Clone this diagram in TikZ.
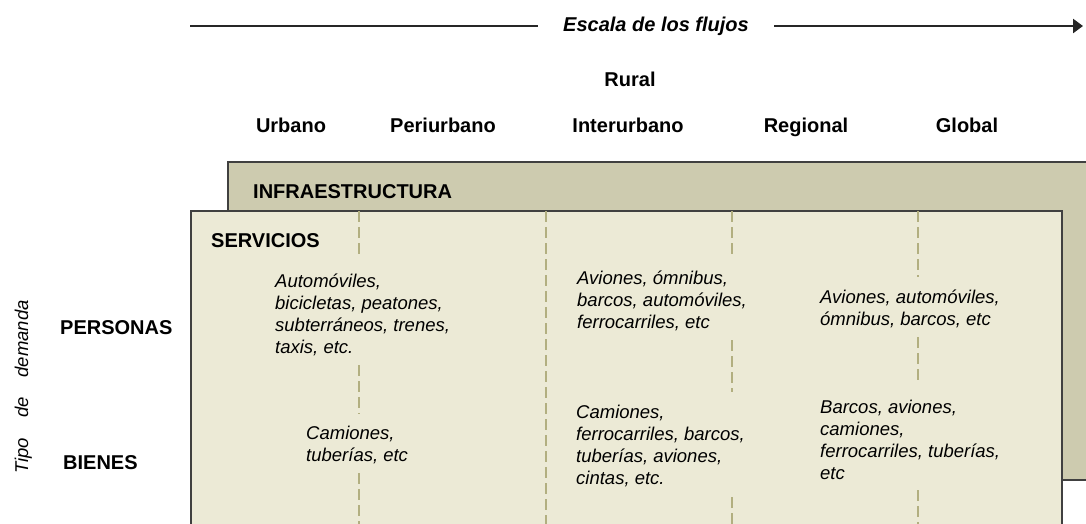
\documentclass[tikz,border=0pt]{standalone}
\usepackage{fontspec}
\setmainfont{Liberation Sans}
\usetikzlibrary{arrows.meta}

\definecolor{infrafill}{RGB}{205,203,175}
\definecolor{servfill}{RGB}{236,234,214}
\definecolor{boxline}{RGB}{64,64,64}
\definecolor{divline}{RGB}{178,175,128}

\tikzset{head_style/.style={anchor=base, inner sep=0pt, font=\fontsize{20}{24}\selectfont\bfseries}}
\tikzset{lbl_style/.style={anchor=base west, inner sep=0pt, font=\fontsize{20}{24}\selectfont\bfseries}}
\tikzset{cell_style/.style={anchor=north west, inner sep=0pt, align=left, font=\fontsize{18.5}{22}\selectfont\itshape}}
\tikzset{box_style/.style={draw=boxline, line width=2pt}}
\tikzset{div_style/.style={draw=divline, line width=1.5pt, dash pattern=on 11pt off 5pt}}

\begin{document}
\begin{tikzpicture}[x=1pt, y=-1pt]
    \useasboundingbox (0,0) rectangle (1086,523);

    \coordinate (aL) at (190,26);
    \coordinate (aR) at (1083,26);
    \node[inner xsep=25pt, inner ysep=3pt, text height=14pt, text depth=4pt,
          font=\fontsize{20}{24}\selectfont\bfseries\itshape] (flujos) at (656,26) {Escala de los flujos};
    \draw[line width=2.5pt, black!85] (aL) -- (flujos);
    \draw[line width=2.5pt, black!85, -{Triangle[length=10pt, width=14pt]}] (flujos) -- (aR);

    \node[head_style] (rural) at (630,86) {Rural};
    \node[head_style] (urb) at (291,132) {Urbano};
    \node[head_style] (peri) at (443,132) {Periurbano};
    \node[head_style] (inter) at (628,132) {Interurbano};
    \node[head_style] (reg) at (806,132) {Regional};
    \node[head_style] (glob) at (967,132) {Global};

    \draw[box_style, fill=infrafill] (228,162) rectangle (1110,480);
    \draw[box_style, fill=servfill] (191,211) rectangle (1062,540);

    \draw[div_style] (359,211) -- (359,259);
    \draw[div_style] (359,365) -- (359,414);
    \draw[div_style] (359,473) -- (359,530);
    \draw[div_style] (546,211) -- (546,530);
    \draw[div_style] (732,211) -- (732,258);
    \draw[div_style] (732,340) -- (732,392);
    \draw[div_style] (732,497) -- (732,530);
    \draw[div_style] (918,211) -- (918,277);
    \draw[div_style] (918,337) -- (918,385);
    \draw[div_style] (918,490) -- (918,530);

    \node[lbl_style] (infra) at (253,198) {INFRAESTRUCTURA};
    \node[lbl_style] (serv) at (211,247) {SERVICIOS};
    \node[lbl_style] (pers) at (60,334) {PERSONAS};
    \node[lbl_style] (bien) at (63,469) {BIENES};
    \node[anchor=base, inner sep=0pt, rotate=90, font=\fontsize{18.5}{22}\selectfont\itshape]
        (tipo) at (28,387) {Tipo\hspace{20pt}de\hspace{20pt}demanda};

    \node[cell_style] (urbP) at (275,273.7) {Automóviles,\\bicicletas, peatones,\\subterráneos, trenes,\\taxis, etc.};
    \node[cell_style] (urbB) at (306,425.7) {Camiones,\\tuberías, etc};
    \node[cell_style] (intP) at (577,270.7) {Aviones, ómnibus,\\barcos, automóviles,\\ferrocarriles, etc};
    \node[cell_style] (intB) at (576,405) {Camiones,\\ferrocarriles, barcos,\\tuberías, aviones,\\cintas, etc.};
    \node[cell_style] (regP) at (820,289.7) {Aviones, automóviles,\\ómnibus, barcos, etc};
    \node[cell_style] (gloB) at (820,400) {Barcos, aviones,\\camiones,\\ferrocarriles, tuberías,\\etc};

\end{tikzpicture}
\end{document}
